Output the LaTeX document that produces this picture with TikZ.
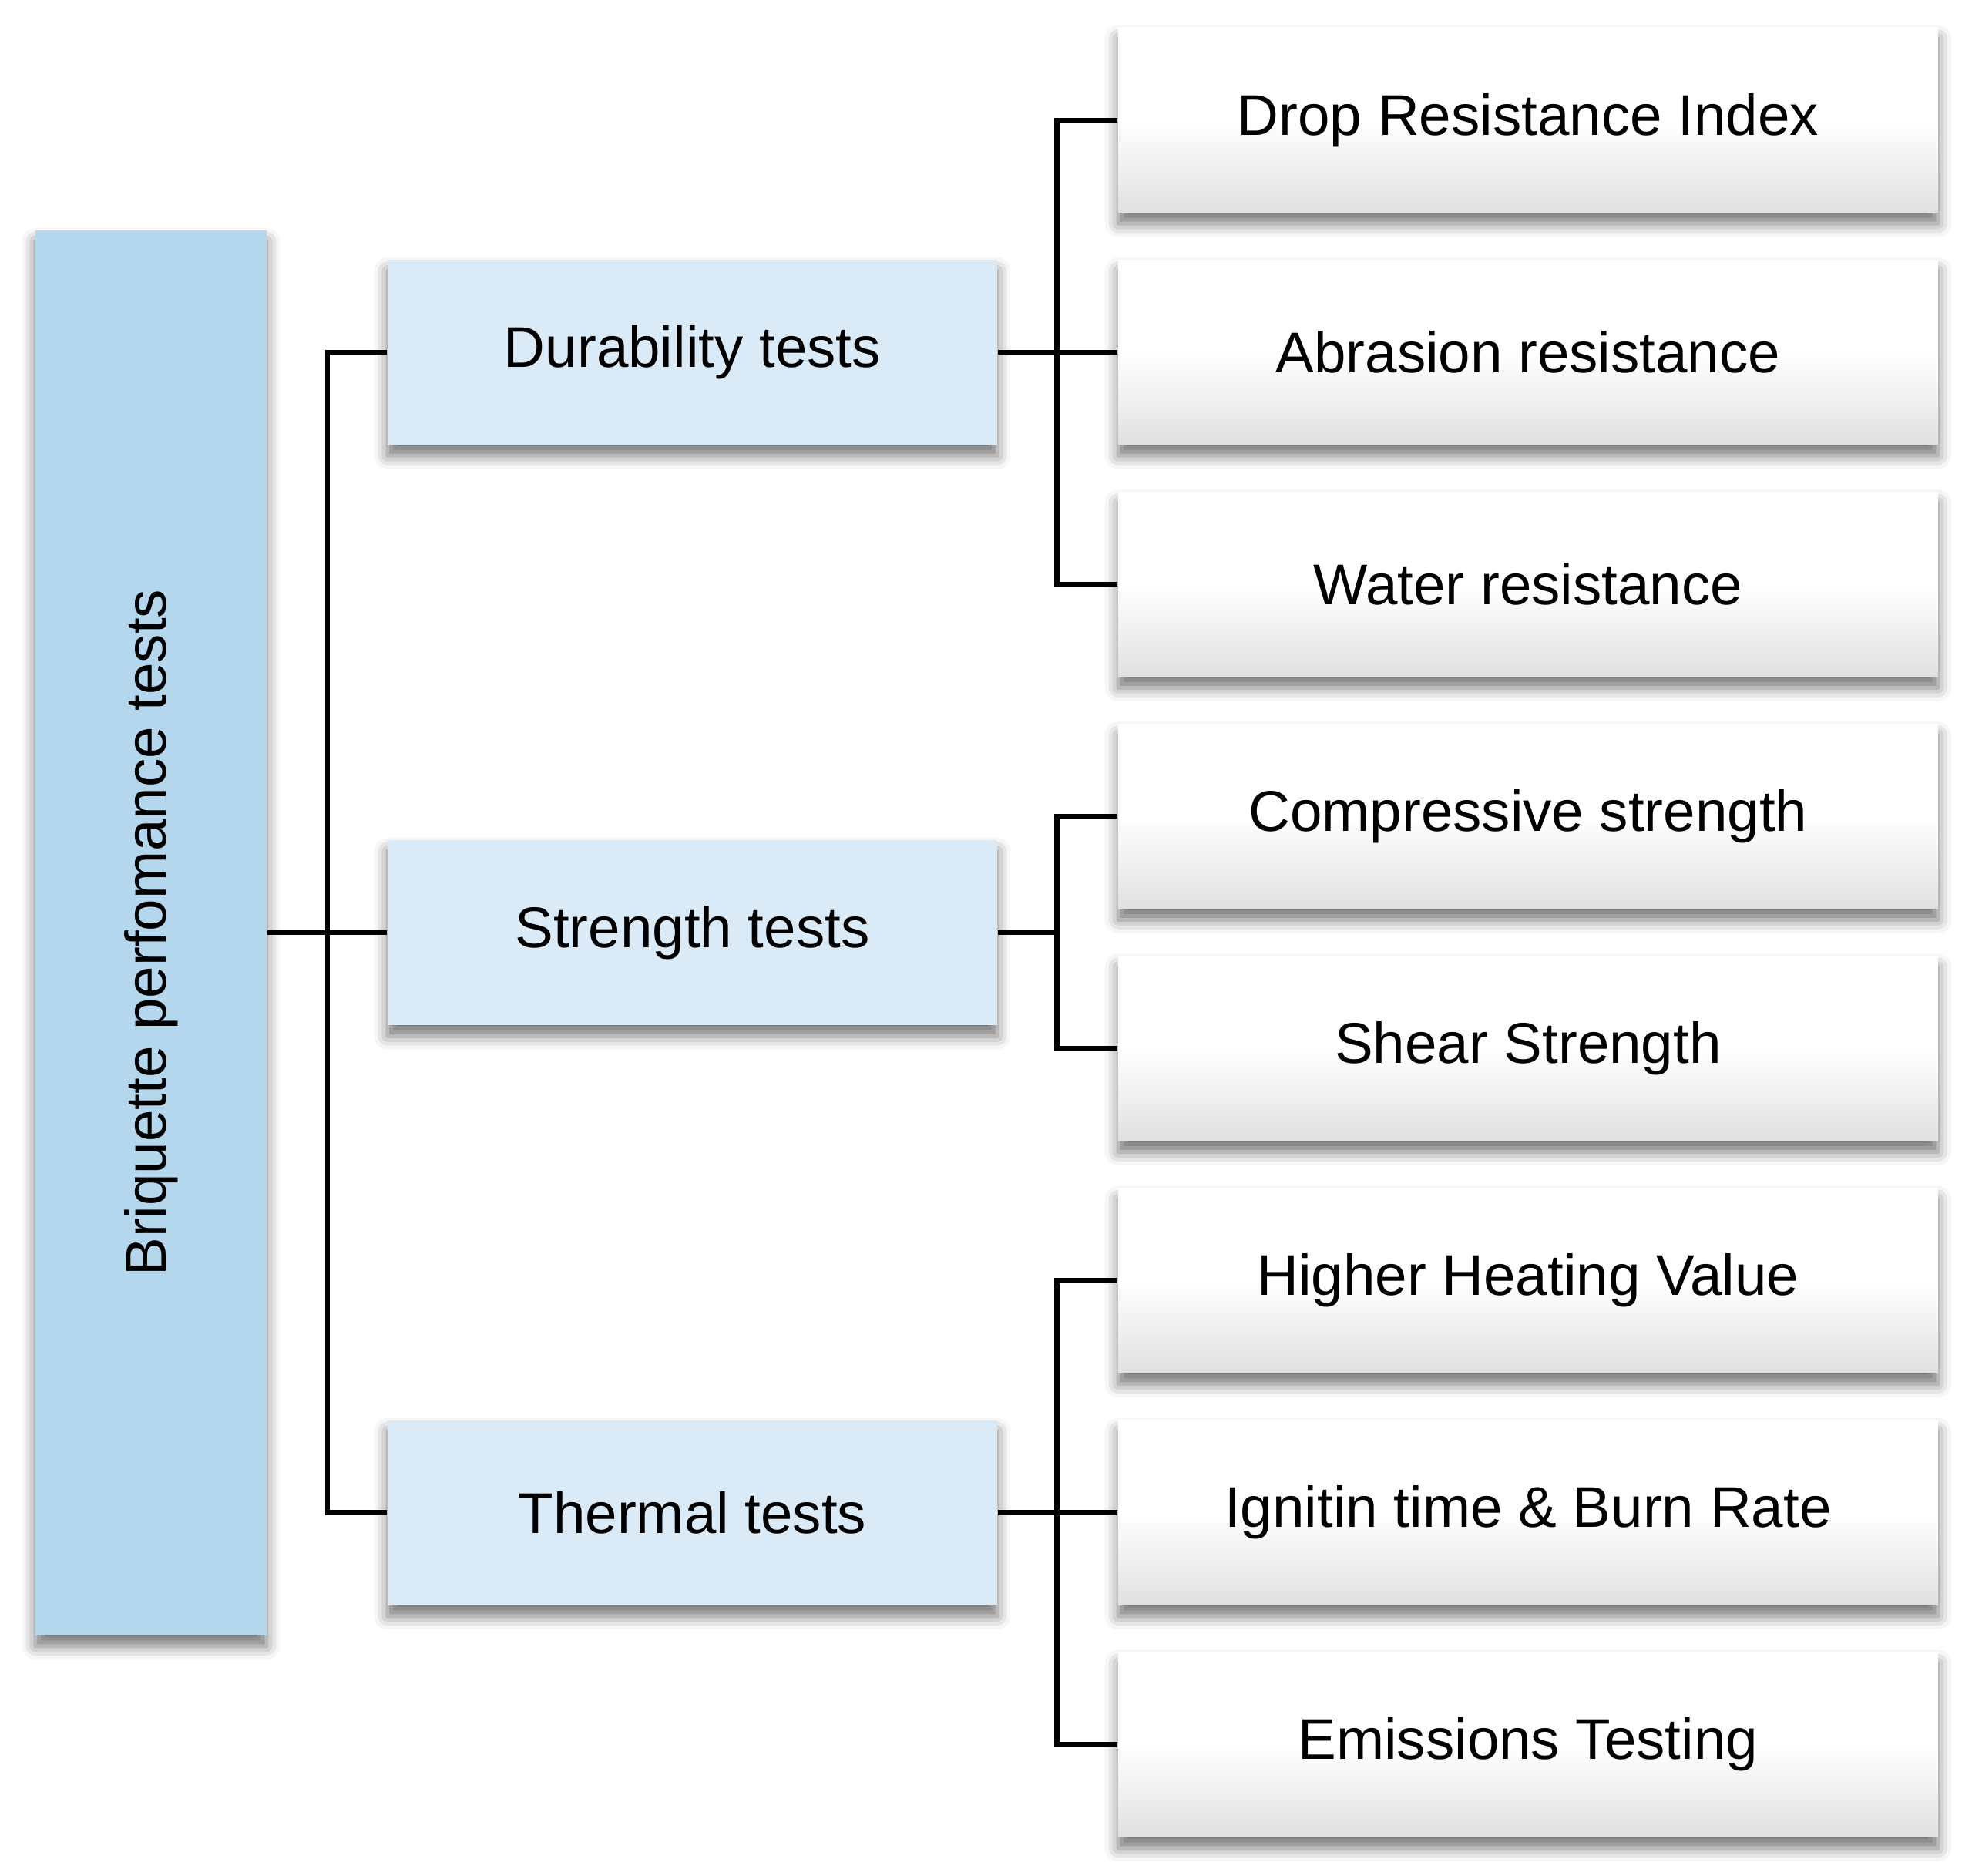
\documentclass[tikz,border=0pt]{standalone}
\usepackage{fontspec}
\setmainfont{Liberation Sans}
\usetikzlibrary{shadows.blur}
\definecolor{rootblue}{HTML}{B4D7EE}
\definecolor{midblue}{HTML}{DAEAF7}
\begin{document}
\begin{tikzpicture}[x=0.02cm, y=-0.02cm,
	boxshadow/.style={blur shadow={shadow xshift=0pt, shadow yshift=-5pt, shadow blur radius=6pt, shadow opacity=55}},
	rootbox/.style={fill=rootblue, boxshadow, minimum width=3.68cm, minimum height=22.34cm, inner sep=0pt},
	midbox/.style={fill=midblue, boxshadow, minimum width=9.7cm, minimum height=2.94cm, inner sep=0pt},
	leafbox/.style={top color=white, bottom color=black!12, middle color=white, boxshadow, minimum width=13.04cm, minimum height=2.94cm, inner sep=0pt},
	link/.style={line width=2.3pt},
	font=\fontsize{26}{30}\selectfont]
	\useasboundingbox (0,0) rectangle (1568,1491);
	\node[rootbox] (root) at (120,741.5) {\rotatebox{90}{Briquette perfomance tests}};
	\node[midbox] (dur) at (550.5,280) {Durability tests};
	\node[midbox] (str) at (550.5,741.5) {Strength tests};
	\node[midbox] (the) at (550.5,1202.5) {Thermal tests};
	\node[leafbox] (d1) at (1215,95.5) {Drop Resistance Index};
	\node[leafbox] (d2) at (1215,280) {Abrasion resistance};
	\node[leafbox] (d3) at (1215,464.5) {Water resistance};
	\node[leafbox] (s1) at (1215,649) {Compressive strength};
	\node[leafbox] (s2) at (1215,833.5) {Shear Strength};
	\node[leafbox] (t1) at (1215,1018) {Higher Heating Value};
	\node[leafbox] (t2) at (1215,1202.5) {Ignitin time \& Burn Rate};
	\node[leafbox] (t3) at (1215,1387) {Emissions Testing};
	% connectors
	\coordinate (rj) at ([xshift=0.96cm]root.east);
	\draw[link] (dur.west) -| (rj) |- (the.west);
	\draw[link] (root.east) -- (str.west);
	\coordinate (dj) at ([xshift=0.94cm]dur.east);
	\draw[link] (d1.west) -| (dj) |- (d3.west);
	\draw[link] (dur.east) -- (d2.west);
	\coordinate (sj) at ([xshift=0.94cm]str.east);
	\draw[link] (s1.west) -| (sj) |- (s2.west);
	\draw[link] (str.east) -- (sj);
	\coordinate (tj) at ([xshift=0.94cm]the.east);
	\draw[link] (t1.west) -| (tj) |- (t3.west);
	\draw[link] (the.east) -- (t2.west);
\end{tikzpicture}
\end{document}
